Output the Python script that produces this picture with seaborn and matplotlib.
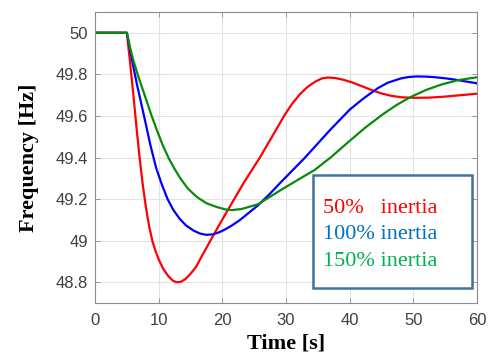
import numpy as np
import pandas as pd
import matplotlib
matplotlib.use("Agg")
import matplotlib.pyplot as plt
import seaborn as sns
from matplotlib.patches import Rectangle
from matplotlib.ticker import FuncFormatter

# ---- data ----
red_t = [0, 5, 5.5, 6.0, 6.5, 7.0, 7.5, 8.0, 8.5, 9.0, 9.5, 10.0, 10.7, 11.5, 12.2, 12.8, 13.5,
         14.2, 15.0, 15.9, 16.75, 17.5, 18.3, 19.5, 21.2, 23.4, 25.9, 27.9, 29.8, 31.0, 32.2,
         33.4, 34.6, 35.6, 36.6, 37.8, 39.0, 40.5, 42.0, 43.5, 45.0, 46.5, 48.0, 50.0, 52.5,
         55.0, 57.5, 60.0]
red_f = [50, 50, 49.86, 49.71, 49.55, 49.40, 49.27, 49.16, 49.07, 49.00, 48.95, 48.91, 48.865,
         48.83, 48.808, 48.80, 48.802, 48.815, 48.84, 48.875, 48.924, 48.965, 49.01, 49.075,
         49.165, 49.28, 49.40, 49.505, 49.605, 49.66, 49.705, 49.74, 49.765, 49.78, 49.785,
         49.782, 49.774, 49.76, 49.742, 49.724, 49.708, 49.697, 49.69, 49.687, 49.688, 49.693,
         49.70, 49.707]

blue_t = [0, 5, 5.5, 6.0, 6.6, 7.7, 8.7, 9.6, 10.5, 11.4, 12.3, 13.3, 14.3, 15.5, 16.5, 17.5,
          18.5, 19.5, 20.5, 21.5, 22.8, 24.2, 25.6, 27.3, 29.0, 33.0, 37.0, 40.0, 42.0, 43.2,
          44.5, 46.0, 48.0, 49.2, 50.5, 52.0, 53.5, 55.0, 56.5, 58.0, 60.0]
blue_f = [50, 50, 49.92, 49.84, 49.75, 49.60, 49.46, 49.35, 49.27, 49.20, 49.148, 49.105, 49.073,
          49.048, 49.034, 49.028, 49.03, 49.04, 49.055, 49.073, 49.10, 49.135, 49.17, 49.22,
          49.275, 49.40, 49.535, 49.63, 49.68, 49.707, 49.735, 49.76, 49.78, 49.787, 49.79,
          49.789, 49.786, 49.781, 49.775, 49.767, 49.757]

green_t = [0, 5, 5.5, 6.0, 6.8, 7.8, 8.9, 9.8, 10.7, 11.6, 12.5, 13.4, 14.6, 16.0, 17.5, 19.1,
           20.5, 21.5, 23.0, 25.6, 29.0, 32.0, 34.5, 37.0, 40.0, 42.5, 45.3, 47.5, 49.5, 52.0,
           54.5, 57.0, 60.0]
green_f = [50, 50, 49.93, 49.87, 49.79, 49.70, 49.60, 49.525, 49.455, 49.395, 49.345, 49.30,
           49.25, 49.21, 49.18, 49.162, 49.15, 49.147, 49.152, 49.175, 49.24, 49.295, 49.34,
           49.40, 49.48, 49.545, 49.61, 49.655, 49.69, 49.725, 49.752, 49.772, 49.786]

series_names = ["50%   inertia", "100% inertia", "150% inertia"]
line_colors = ["#ff0000", "#0000ff", "#0a8a0a"]
text_colors = ["#ff0000", "#0070c0", "#00b050"]

x_ticks = [0, 10, 20, 30, 40, 50, 60]
y_ticks = [48.8, 49.0, 49.2, 49.4, 49.6, 49.8, 50.0]

df = pd.concat([
    pd.DataFrame({"t": red_t, "f": red_f, "s": series_names[0]}),
    pd.DataFrame({"t": blue_t, "f": blue_f, "s": series_names[1]}),
    pd.DataFrame({"t": green_t, "f": green_f, "s": series_names[2]}),
], ignore_index=True)

sns.set_theme(style="whitegrid")
plt.rcParams["font.family"] = ["Liberation Sans", "DejaVu Sans"]

fig = plt.figure(figsize=(4.88, 3.56), dpi=100)
ax = fig.add_axes([95 / 488, 1 - 303 / 356, 382 / 488, 291 / 356])

sns.lineplot(data=df, x="t", y="f", hue="s", palette=dict(zip(series_names, line_colors)),
             estimator=None, sort=True, linewidth=1.6, legend=False, ax=ax)

ax.set_xlim(0, 60)
ax.set_ylim(48.7, 50.1)
ax.set_xticks(x_ticks)
ax.set_yticks(y_ticks)
ax.yaxis.set_major_formatter(FuncFormatter(lambda v, p: f"{v:g}"))
ax.set_facecolor("white")
ax.grid(True, color="#e3e3e3", linewidth=0.8)
for sp in ax.spines.values():
    sp.set_visible(True)
    sp.set_color("#8c8c8c")
    sp.set_linewidth(0.8)
ax.tick_params(axis="both", which="both", direction="in", length=3.5, width=0.6,
               color="#8c8c8c", labelcolor="#404040", labelsize=12,
               top=True, right=True, left=True, bottom=True)
ax.tick_params(axis="x", pad=7)
ax.tick_params(axis="y", pad=5)

ax.set_xlabel("Time [s]", family=["Liberation Serif", "DejaVu Serif"], fontweight="bold",
              fontsize=16, color="black", labelpad=4)
ax.set_ylabel("Frequency [Hz]", family=["Liberation Serif", "DejaVu Serif"], fontweight="bold",
              fontsize=16, color="black", labelpad=12)

# legend box
ax.add_patch(Rectangle((0.570, 0.0515), 0.416, 0.3885, transform=ax.transAxes,
                       facecolor="white", edgecolor="#41719c", linewidth=1.8, zorder=5))
baselines = [0.308, 0.219, 0.127]
for name, col, yb in zip(series_names, text_colors, baselines):
    ax.text(0.598, yb, name, transform=ax.transAxes, color=col, fontsize=16,
            family=["Liberation Serif", "DejaVu Serif"], va="baseline", ha="left", zorder=6)

fig.savefig("out.png", dpi=100, facecolor="white")
